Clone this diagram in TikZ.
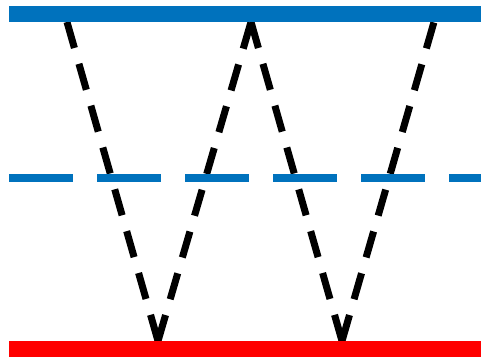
\documentclass[tikz,border=0pt]{standalone}
\usetikzlibrary{positioning}
\definecolor{barblue}{RGB}{0,114,189}
\definecolor{barred}{RGB}{255,0,0}
\begin{document}
\begin{tikzpicture}[x=1pt, y=-1pt,
    bar/.style={line width=16pt, line cap=butt},
    midline/.style={line width=8pt, barblue, dash pattern=on 64pt off 24pt},
    zigzag/.style={line width=7pt, black, dash pattern=on 27pt off 16.5pt}]
    \useasboundingbox (0,0) rectangle (481,358);
    % reflection points
    \coordinate (t1) at (67,22);
    \coordinate (b1) at (158,341);
    \coordinate (t2) at (251,22);
    \coordinate (b2) at (342,341);
    \coordinate (t3) at (434,22);
    \foreach \from/\to in {t1/b1, b1/t2, t2/b2, b2/t3}
        \draw[zigzag] (\from) -- (\to);

    % surfaces
    \draw[midline] (9,178) -- (481,178);
    \draw[bar, barblue] (9,14) -- (481,14);
    \draw[bar, barred] (9,349) -- (481,349);
\end{tikzpicture}
\end{document}
